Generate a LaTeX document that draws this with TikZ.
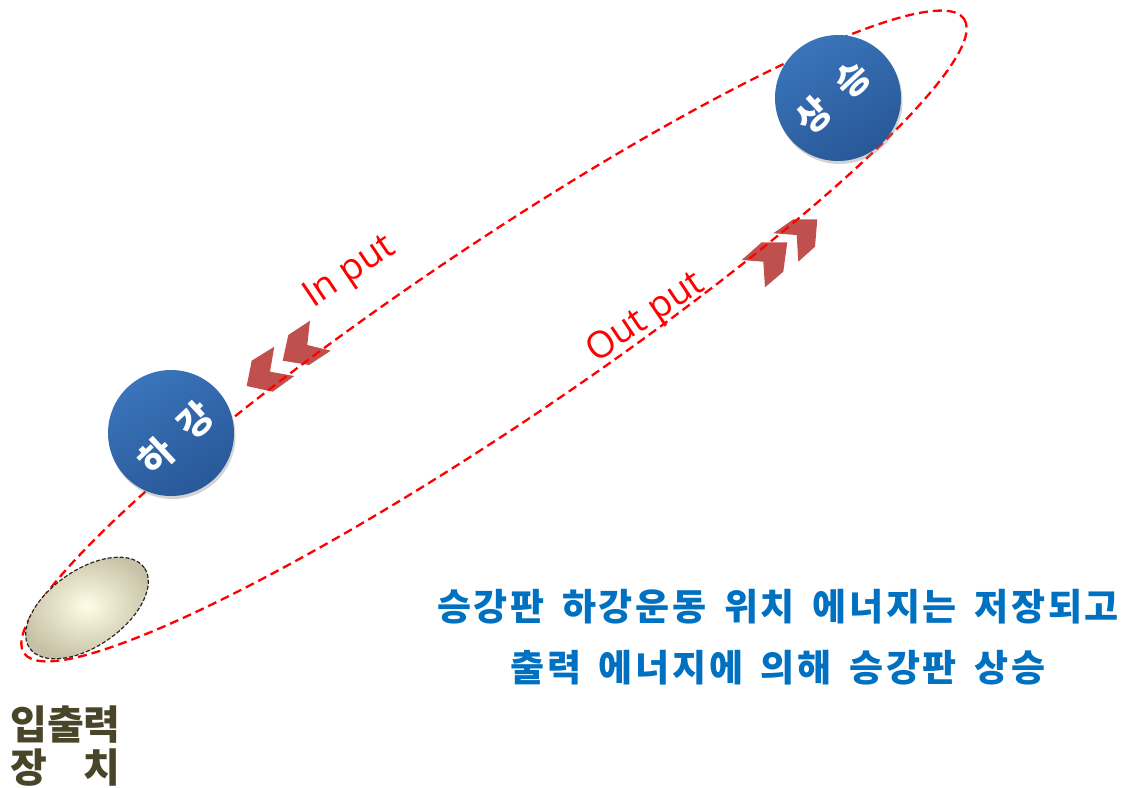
\documentclass[tikz,border=0pt]{standalone}
\usepackage{fontspec}
\newfontfamily\kr{Noto Sans CJK KR}
\newfontfamily\krwide{Noto Sans CJK KR}[LetterSpace=7.5]
\newfontfamily\lat{Open Sans}
\usetikzlibrary{shadows,shapes.geometric}
\definecolor{dashred}{RGB}{255,0,0}
\definecolor{chev}{RGB}{192,80,77}
\definecolor{ballhi}{RGB}{58,116,186}
\definecolor{balllo}{RGB}{40,88,152}
\definecolor{txtblue}{RGB}{0,112,192}
\definecolor{olivetxt}{RGB}{73,69,41}
\definecolor{creamin}{RGB}{255,253,230}
\definecolor{creamout}{RGB}{198,193,166}
\newcommand\notefont{\krwide\bfseries\fontsize{37}{37}\selectfont\spaceskip=17.5pt plus 0pt minus 0pt\relax}
\begin{document}
\begin{tikzpicture}[x=1pt,y=-1pt,
  orbit/.style={draw=dashred, line width=2.3pt, dash pattern=on 9pt off 5pt},
  chevron/.style={fill=chev, draw=none},
  ball/.style={circle, minimum size=126pt, inner sep=0pt, top color=ballhi, bottom color=balllo, shading angle=30, drop shadow={shadow xshift=1.5pt, shadow yshift=-3pt, opacity=0.35}},
  balltext/.style={text=white, font=\kr\bfseries\fontsize{36}{36}\selectfont, rotate=43, inner sep=0pt},
  flowlabel/.style={text=dashred, font=\lat\fontsize{37}{37}\selectfont, rotate=34, anchor=base, inner sep=0pt},
  note/.style={text=txtblue, font=\notefont, anchor=base, inner sep=0pt},
  device/.style={text=olivetxt, font=\kr\bfseries\fontsize{40}{40}\selectfont, anchor=base west, inner sep=0pt},
  iobox/.style={ellipse, minimum width=140pt, minimum height=76pt, inner sep=0pt, inner color=creamin, outer color=creamout, draw=black!85, line width=1.2pt, dash pattern=on 4pt off 2pt},
]
\useasboundingbox (0,0) rectangle (1124,787);
% chevrons (In put, pointing down-left)
\fill[chevron] (251.7,360.7) -- (274.3,346.7) -- (270,371.7) -- (294.3,376) -- (272.7,391.7) -- (246.7,386) -- cycle;
\fill[chevron] (288.3,335) -- (310,320.7) -- (307.3,345) -- (330.7,350.7) -- (309,365) -- (282.7,360.7) -- cycle;
% chevrons (Out put, pointing up-right)
\fill[chevron] (741.7,260) -- (761.7,242.3) -- (787.3,242.3) -- (783.3,271.7) -- (765,287.3) -- (763.3,261.7) -- cycle;
\fill[chevron] (773.3,233.3) -- (793.3,219.3) -- (817.3,219.3) -- (815,246.7) -- (798.3,261.7) -- (796.7,235) -- cycle;
% orbit
\draw[orbit, rotate around={34:(494,336)}] (494,336) ellipse [x radius=567, y radius=88];
% input/output device
\node[iobox, rotate=35] (io) at (87,608) {};
% balls
\node[ball] (up) at (838,98) {};
\node[ball] (down) at (171,433) {};
\node[balltext] (uptxt) at (833,97) {상\hspace{20pt}승};
\node[balltext] (downtxt) at (176,438) {하\hspace{20pt}강};
% flow labels
\node[flowlabel] (inlbl) at (355,280) {In put};
\node[flowlabel] (outlbl) at (651,326) {Out put};
% description
\node[note] (desc1) at (778,620) {승강판 하강운동 위치 에너지는 저장되고};
\node[note] (desc2) at (778,681) {출력 에너지에 의해 승강판 상승};
% device label
\node[device] (dev1) at (10,739) {입출력};
\node[device] (dev2) at (10,782) {장\hspace{36pt}치};
\end{tikzpicture}
\end{document}
